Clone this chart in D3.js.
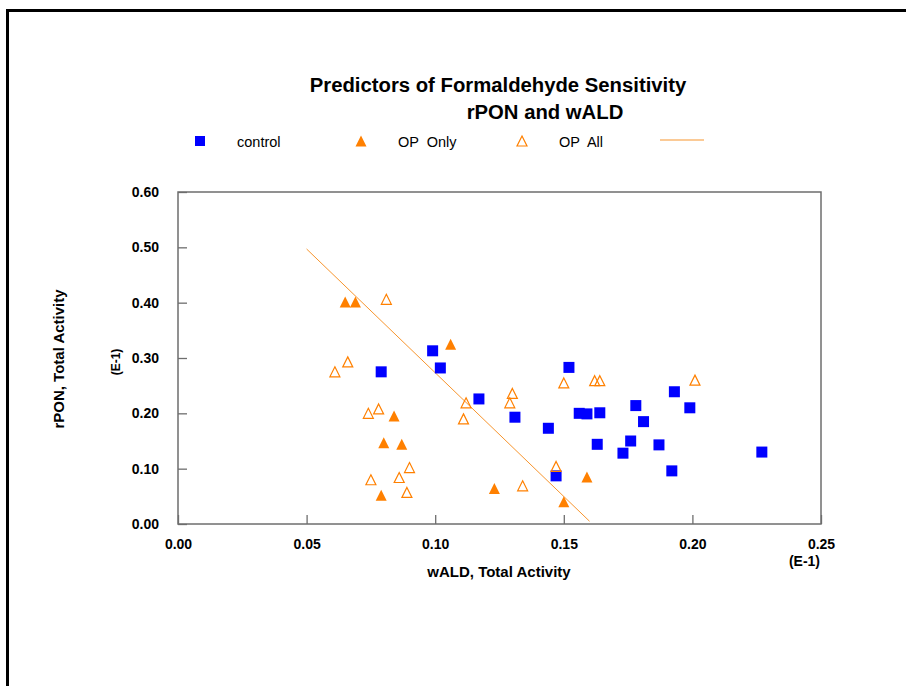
<!DOCTYPE html>
<html>
<head>
<meta charset="utf-8">
<script src="https://cdnjs.cloudflare.com/ajax/libs/d3/7.8.5/d3.min.js"></script>
<style>
	body { margin: 0; background: #fff; }
	text { font-family: "Liberation Sans", Arial, sans-serif; fill: #000; }
</style>
</head>
<body>
<svg id="chart" width="906" height="686" viewBox="0 0 906 686"></svg>
<script>

// values (x = wALD, y = rPON, both in E-1)
const controlX = [0.079, 0.099, 0.102, 0.117, 0.131, 0.144, 0.147, 0.152, 0.156, 0.159, 0.164,
	0.163, 0.173, 0.176, 0.178, 0.181, 0.187, 0.192, 0.193, 0.199, 0.227];
const controlY = [0.275, 0.313, 0.282, 0.226, 0.193, 0.173, 0.087, 0.283, 0.200, 0.199, 0.201,
	0.144, 0.128, 0.150, 0.214, 0.185, 0.143, 0.096, 0.239, 0.210, 0.130];

const opOnlyX = [0.065, 0.069, 0.106, 0.084, 0.080, 0.087, 0.079, 0.123, 0.150, 0.159];
const opOnlyY = [0.401, 0.401, 0.325, 0.195, 0.147, 0.144, 0.052, 0.064, 0.040, 0.085];

const opAllX = [0.081, 0.066, 0.061, 0.074, 0.078, 0.112, 0.111, 0.090, 0.075, 0.086,
	0.089, 0.130, 0.129, 0.150, 0.162, 0.164, 0.201, 0.147, 0.134];
const opAllY = [0.406, 0.293, 0.275, 0.200, 0.208, 0.219, 0.190, 0.102, 0.080, 0.084,
	0.057, 0.236, 0.219, 0.255, 0.259, 0.259, 0.260, 0.104, 0.069];

// fitted line end points
const fitX = [0.05, 0.16];
const fitY = [0.497, 0.005];

const xTicks = [0, 0.05, 0.10, 0.15, 0.20, 0.25];
const yTicks = [0, 0.10, 0.20, 0.30, 0.40, 0.50, 0.60];

const seriesNames = ["control", "OP  Only", "OP  All"];

const BLUE = "#0000ff";
const ORANGE = "#ff8000";

class ScatterPlot {

	constructor(svg_element_id) {
		this.svg = d3.select('#' + svg_element_id);

		const left = 178, right = 821, top = 192, bottom = 524;

		const x = d3.scaleLinear().domain([0, 0.25]).range([left, right]);
		const y = d3.scaleLinear().domain([0, 0.6]).range([bottom, top]);

		// page frame (runs off the right / bottom edge)
		this.svg.append("rect")
			.attr("x", 7.5).attr("y", 10.5)
			.attr("width", 1000).attr("height", 1000)
			.attr("fill", "none").attr("stroke", "#000").attr("stroke-width", 3);

		// titles
		this.svg.append("text")
			.attr("x", 498).attr("y", 92)
			.attr("text-anchor", "middle")
			.style("font-size", "20.3px").style("font-weight", "bold")
			.text("Predictors of Formaldehyde Sensitivity");
		this.svg.append("text")
			.attr("x", 545).attr("y", 119)
			.attr("text-anchor", "middle")
			.style("font-size", "20.3px").style("font-weight", "bold")
			.text("rPON and wALD");

		const tri = (s) => `M0,${-s}L${s},${s}L${-s},${s}Z`;

		// axes, ticks pointing inwards
		const yAxis = d3.axisLeft(y).tickValues(yTicks).tickFormat(d3.format(".2f"))
			.tickSize(-9).tickPadding(19);
		const gy = this.svg.append("g").attr("transform", `translate(${left},0)`).call(yAxis);

		const xAxis = d3.axisBottom(x).tickValues(xTicks).tickFormat(d3.format(".2f"))
			.tickSize(-9).tickPadding(15);
		const gx = this.svg.append("g").attr("transform", `translate(0,${bottom})`).call(xAxis);

		[gx, gy].forEach(g => {
			g.select(".domain").remove();
			g.selectAll("line").attr("stroke", "#6e6e6e").attr("stroke-width", 1.3);
			g.selectAll("text")
				.style("font-size", "14px").style("font-weight", "bold")
				.style("font-family", "'Liberation Sans', Arial, sans-serif").attr("fill", "#000");
		});

		this.svg.append("rect")
			.attr("x", left).attr("y", top)
			.attr("width", right - left).attr("height", bottom - top)
			.attr("fill", "none").attr("stroke", "#6e6e6e").attr("stroke-width", 1.5);

		// axis titles
		this.svg.append("text")
			.attr("x", 499).attr("y", 577)
			.attr("text-anchor", "middle")
			.style("font-size", "15px").style("font-weight", "bold")
			.text("wALD, Total Activity");
		this.svg.append("text")
			.attr("x", 820).attr("y", 566)
			.attr("text-anchor", "end")
			.style("font-size", "14px").style("font-weight", "bold")
			.text("(E-1)");
		this.svg.append("text")
			.attr("transform", "translate(64,359) rotate(-90)")
			.attr("text-anchor", "middle")
			.style("font-size", "15px").style("font-weight", "bold")
			.text("rPON, Total Activity");
		this.svg.append("text")
			.attr("transform", "translate(120,362) rotate(-90)")
			.attr("text-anchor", "middle")
			.style("font-size", "12px").style("font-weight", "bold")
			.text("(E-1)");

		// fitted line
		this.svg.append("line")
			.attr("x1", x(fitX[0])).attr("y1", y(fitY[0]))
			.attr("x2", x(fitX[1])).attr("y2", y(fitY[1]))
			.attr("stroke", "#f7952e").attr("stroke-width", 1);

		// points
		this.svg.append("g").selectAll("rect")
			.data(d3.zip(controlX, controlY))
			.enter().append("rect")
			.attr("x", d => x(d[0]) - 5.5).attr("y", d => y(d[1]) - 5.5)
			.attr("width", 11).attr("height", 11)
			.attr("fill", BLUE);

		this.svg.append("g").selectAll("path")
			.data(d3.zip(opOnlyX, opOnlyY))
			.enter().append("path")
			.attr("transform", d => `translate(${x(d[0])},${y(d[1])})`)
			.attr("d", tri(5.5))
			.attr("fill", ORANGE);

		this.svg.append("g").selectAll("path")
			.data(d3.zip(opAllX, opAllY))
			.enter().append("path")
			.attr("transform", d => `translate(${x(d[0])},${y(d[1])})`)
			.attr("d", tri(5))
			.attr("fill", "none").attr("stroke", ORANGE).attr("stroke-width", 1.2);

		// legend
		const legendY = 141;
		const lg = this.svg.append("g");
		lg.append("rect").attr("x", 195).attr("y", legendY - 5).attr("width", 10).attr("height", 10).attr("fill", BLUE);
		lg.append("path").attr("transform", `translate(361,${legendY})`).attr("d", tri(5.5)).attr("fill", ORANGE);
		lg.append("path").attr("transform", `translate(522,${legendY})`).attr("d", tri(5))
			.attr("fill", "none").attr("stroke", ORANGE).attr("stroke-width", 1.2);
		lg.append("line").attr("x1", 660).attr("x2", 704).attr("y1", legendY - 1).attr("y2", legendY - 1)
			.attr("stroke", "#f7952e").attr("stroke-width", 1.2);
		lg.selectAll("text.lab")
			.data(seriesNames)
			.enter().append("text")
			.attr("class", "lab")
			.attr("x", (d, i) => [237, 398, 559][i])
			.attr("y", legendY + 6)
			.style("font-size", "14.5px")
			.style("white-space", "pre")
			.text(d => d);
	}
}

function whenDocumentLoaded(action) {
	if (document.readyState === "loading") {
		document.addEventListener("DOMContentLoaded", action);
	} else {
		action();
	}
}

whenDocumentLoaded(() => {
	plot_object = new ScatterPlot('chart');
});
</script>
</body>
</html>
